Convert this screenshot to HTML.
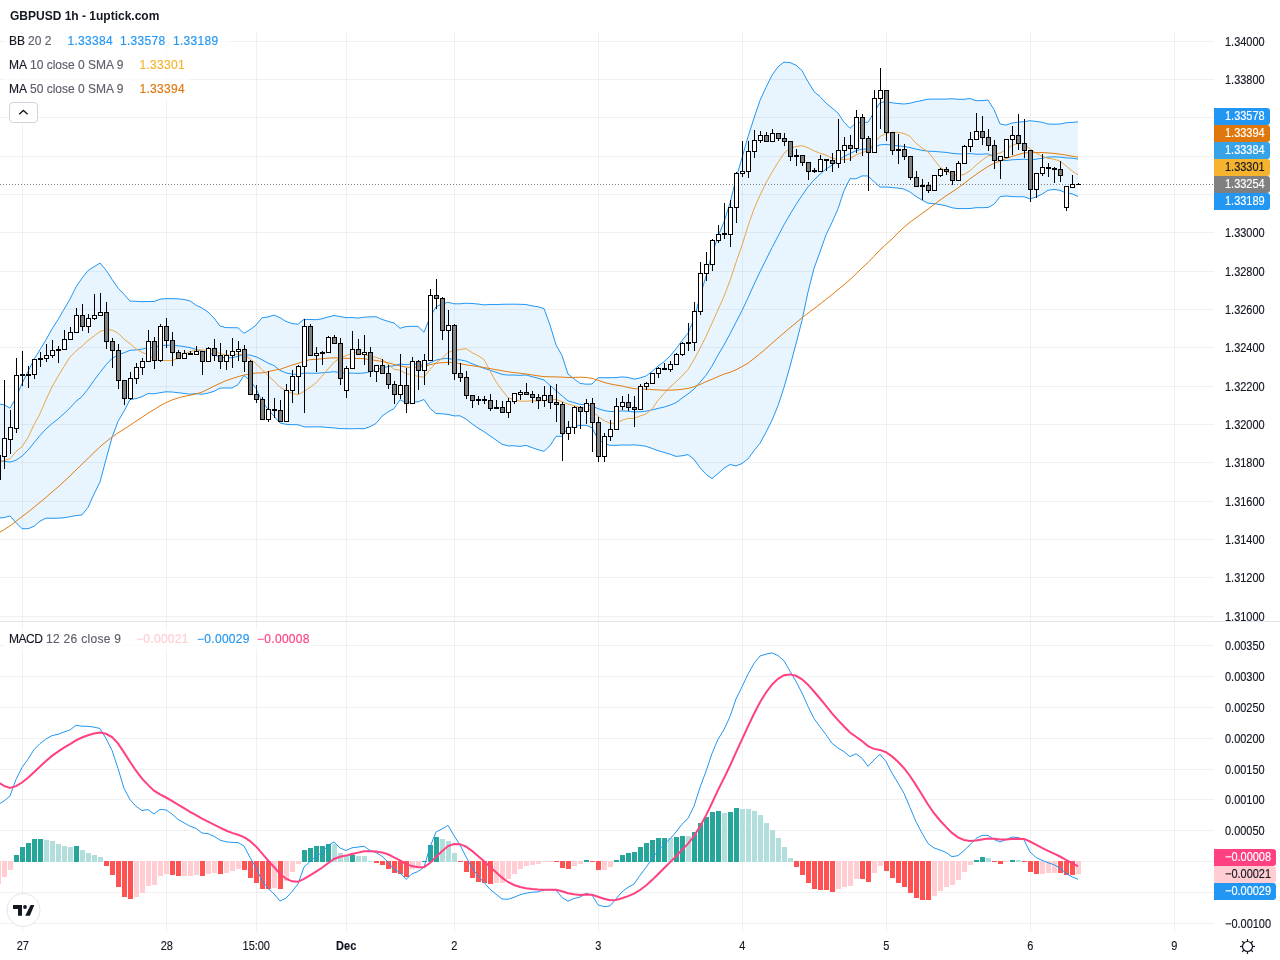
<!DOCTYPE html>
<html><head><meta charset="utf-8"><style>
html,body{margin:0;padding:0;background:#fff;width:1280px;height:960px;overflow:hidden;font-family:"Liberation Sans",sans-serif;}
#root{position:relative;width:1280px;height:960px;will-change:transform;}
svg{position:absolute;left:0;top:0;}
.pl{position:absolute;left:1224.5px;white-space:pre;font-size:12.2px;line-height:16px;height:16px;}
.bx{position:absolute;left:1214px;width:56px;box-sizing:border-box;padding:0 0 0 10.5px;white-space:pre;font-size:12.2px;line-height:17px;height:17px;border-radius:0 3px 3px 0;}
.mb{width:62px;}
.sx{display:inline-block;transform:scaleX(0.9);transform-origin:0 50%;}
.tl{position:absolute;top:938px;width:61px;text-align:center;font-size:12.2px;line-height:16px;color:#131722;}
.tl span{display:inline-block;transform:scaleX(0.9);}
.lg{position:absolute;font-size:12px;line-height:16px;color:#131722;white-space:pre;}
.g{color:#5d606b}
.pl,.tl,.bx,.lg{-webkit-text-stroke:0.15px currentColor;}
.rb{position:absolute;left:4px;height:24px;background:rgba(255,255,255,0.75);}
.v{letter-spacing:0.3px}
</style></head><body><div id="root">
<svg width="1280" height="960" viewBox="0 0 1280 960">
<path d="M0 41.5 H1214 M0 79.5 H1214 M0 117.5 H1214 M0 156.5 H1214 M0 194.5 H1214 M0 232.5 H1214 M0 271.5 H1214 M0 309.5 H1214 M0 347.5 H1214 M0 386.5 H1214 M0 424.5 H1214 M0 462.5 H1214 M0 501.5 H1214 M0 539.5 H1214 M0 577.5 H1214 M0 616.5 H1214 M0 645.5 H1214 M0 676.5 H1214 M0 707.5 H1214 M0 738.5 H1214 M0 769.5 H1214 M0 799.5 H1214 M0 830.5 H1214 M0 861.5 H1214 M0 892.5 H1214 M0 923.5 H1214" stroke="rgba(42,46,57,0.065)" stroke-width="1" fill="none" shape-rendering="crispEdges"/>
<path d="M22.5 31 V621 M22.5 622 V932 M166.5 31 V621 M166.5 622 V932 M256.5 31 V621 M256.5 622 V932 M346.5 31 V621 M346.5 622 V932 M454.5 31 V621 M454.5 622 V932 M598.5 31 V621 M598.5 622 V932 M742.5 31 V621 M742.5 622 V932 M886.5 31 V621 M886.5 622 V932 M1030.5 31 V621 M1030.5 622 V932 M1174.5 31 V621 M1174.5 622 V932" stroke="rgba(42,46,57,0.065)" stroke-width="1" fill="none" shape-rendering="crispEdges"/>
<path d="M0 621.5 H1280" stroke="#e0e3eb" stroke-width="1" shape-rendering="crispEdges"/>
<defs><clipPath id="cm"><rect x="0" y="31" width="1214" height="590"/></clipPath><clipPath id="cd"><rect x="0" y="622" width="1214" height="310"/></clipPath></defs>
<g clip-path="url(#cm)">
<polygon points="-2,403.9 4,404.7 10,408.2 16,397.7 22,383.5 28,371.6 34,359.3 40,349.7 46,339.7 52,329 58,319.6 64,309.3 70,299.1 76,286.9 82,278.1 88,270.6 94,266.8 100,263 106,270.1 112,279.3 118,288.1 124,294.3 130,301.1 136,301.3 142,301.7 148,301.5 154,301.5 160,299.2 166,298.6 172,298.7 178,298.8 184,299.5 190,300.9 196,305.2 202,308 208,312.1 214,318 220,326 226,327.6 232,327.7 238,327.8 244,333.3 250,329.7 256,325.1 262,317.8 268,316.9 274,315.1 280,317.7 286,321.4 292,323.5 298,324.3 304,319.3 310,319.5 316,319.7 322,318.8 328,317 334,315.5 340,316.5 346,317.7 352,317.5 358,318.1 364,317.2 370,316.9 376,316.7 382,319.4 388,321.3 394,323 400,328.3 406,326.6 412,326.3 418,326.4 424,332.2 430,317.3 436,306.7 442,304.1 448,302.2 454,303.8 460,303.8 466,303.2 472,303.5 478,304 484,304.9 490,304.4 496,304.6 502,304.3 508,304.2 514,304.2 520,304.3 526,304.5 532,305.9 538,306.7 544,308.6 550,325 556,344.9 562,355.5 568,374.1 574,378.9 580,383.3 586,384.2 592,384 598,377.8 604,377.7 610,377.7 616,377.6 622,376.9 628,377.4 634,379.1 640,378 646,376 652,371.5 658,366 664,361.7 670,356.1 676,348.9 682,340.5 688,333.2 694,319 700,296.7 706,276.2 712,253.6 718,236.6 724,221.7 730,203.2 736,178.5 742,157.8 748,136.8 754,118.1 760,100.4 766,87.3 772,75.2 778,66.8 784,62.2 790,62.6 796,65.2 802,70.6 808,81.7 814,91.5 820,96.6 826,103.1 832,108 838,113.1 844,122.2 850,128.3 856,122.7 862,122.3 868,122.3 874,112.4 880,102.5 886,101.7 892,102.8 898,103.5 904,104 910,103.2 916,101.7 922,100.5 928,99.2 934,99.1 940,99.1 946,99.1 952,98.7 958,99.3 964,99.3 970,98.5 976,100.7 982,100.6 988,100.1 994,109.5 1000,123.9 1006,125.1 1012,123 1018,122.2 1024,121.7 1030,120.7 1036,121.4 1042,122.3 1048,124 1054,124.2 1060,124 1066,122.8 1072,122.4 1078,121.8 1078,196.5 1072,193.8 1066,193 1060,190.3 1054,189.4 1048,190.3 1042,194.2 1036,196.9 1030,198.9 1024,196.7 1018,196.8 1012,196.6 1006,196 1000,196.6 994,204.3 988,207.5 982,207.7 976,207.7 970,208.5 964,208.6 958,208.6 952,207.8 946,205.8 940,204.6 934,203.7 928,203.2 922,200 916,196.5 910,192 904,189 898,188.1 892,187.6 886,187 880,187.1 874,181.7 868,176 862,175.9 856,178.8 850,178.7 844,190.7 838,208.8 832,222.4 826,234.9 820,251.9 814,268.4 808,292.1 802,320.4 796,343.9 790,366.3 784,387.5 778,405.7 772,420.3 766,432.2 760,443.3 754,450.7 748,458.9 742,463.5 736,465.9 730,464.5 724,468.2 718,473.5 712,478.7 706,474.3 700,467.7 694,459.3 688,454.6 682,455.8 676,456.4 670,454.2 664,452.4 658,450.7 652,448.4 646,446.3 640,445.4 634,444.9 628,445.1 622,445 616,445.3 610,445.3 604,443.3 598,439.5 592,427.7 586,425.3 580,425.4 574,426.4 568,427.8 562,436.2 556,436.4 550,445.7 544,451.3 538,449.7 532,447.6 526,445.4 520,446.4 514,445.8 508,445.9 502,444.2 496,440 490,435.9 484,431.7 478,428 472,423.8 466,419.1 460,415.8 454,415.9 448,414.4 442,413.8 436,413.5 430,408.3 424,399.5 418,401.9 412,401.6 406,402.7 400,399.7 394,408.6 388,411.9 382,416.2 376,423.5 370,426.7 364,428.7 358,428.6 352,428.8 346,428.7 340,428.6 334,427.9 328,427.5 322,426.9 316,426.8 310,426.9 304,426.9 298,424.7 292,424.7 286,424.3 280,423 274,416.1 268,409.3 262,401.6 256,388.5 250,380.7 244,375.5 238,384.7 232,388 226,388 220,388.1 214,391.3 208,393.1 202,394.3 196,393.6 190,394.2 184,393.4 178,392.7 172,392 166,391.8 160,392.7 154,393.8 148,393.6 142,396.7 136,398.6 130,399.6 124,411.2 118,421.4 112,437.6 106,459.5 100,482 94,494.1 88,507.4 82,514.9 76,515.6 70,516.7 64,517.8 58,518.2 52,518.3 46,518.1 40,521.2 34,526.3 28,528.7 22,528.7 16,522.7 10,515.9 4,517.7 -2,517.9" fill="#2196f3" fill-opacity="0.1" stroke="none"/>
<polyline points="-2,403.9 4,404.7 10,408.2 16,397.7 22,383.5 28,371.6 34,359.3 40,349.7 46,339.7 52,329 58,319.6 64,309.3 70,299.1 76,286.9 82,278.1 88,270.6 94,266.8 100,263 106,270.1 112,279.3 118,288.1 124,294.3 130,301.1 136,301.3 142,301.7 148,301.5 154,301.5 160,299.2 166,298.6 172,298.7 178,298.8 184,299.5 190,300.9 196,305.2 202,308 208,312.1 214,318 220,326 226,327.6 232,327.7 238,327.8 244,333.3 250,329.7 256,325.1 262,317.8 268,316.9 274,315.1 280,317.7 286,321.4 292,323.5 298,324.3 304,319.3 310,319.5 316,319.7 322,318.8 328,317 334,315.5 340,316.5 346,317.7 352,317.5 358,318.1 364,317.2 370,316.9 376,316.7 382,319.4 388,321.3 394,323 400,328.3 406,326.6 412,326.3 418,326.4 424,332.2 430,317.3 436,306.7 442,304.1 448,302.2 454,303.8 460,303.8 466,303.2 472,303.5 478,304 484,304.9 490,304.4 496,304.6 502,304.3 508,304.2 514,304.2 520,304.3 526,304.5 532,305.9 538,306.7 544,308.6 550,325 556,344.9 562,355.5 568,374.1 574,378.9 580,383.3 586,384.2 592,384 598,377.8 604,377.7 610,377.7 616,377.6 622,376.9 628,377.4 634,379.1 640,378 646,376 652,371.5 658,366 664,361.7 670,356.1 676,348.9 682,340.5 688,333.2 694,319 700,296.7 706,276.2 712,253.6 718,236.6 724,221.7 730,203.2 736,178.5 742,157.8 748,136.8 754,118.1 760,100.4 766,87.3 772,75.2 778,66.8 784,62.2 790,62.6 796,65.2 802,70.6 808,81.7 814,91.5 820,96.6 826,103.1 832,108 838,113.1 844,122.2 850,128.3 856,122.7 862,122.3 868,122.3 874,112.4 880,102.5 886,101.7 892,102.8 898,103.5 904,104 910,103.2 916,101.7 922,100.5 928,99.2 934,99.1 940,99.1 946,99.1 952,98.7 958,99.3 964,99.3 970,98.5 976,100.7 982,100.6 988,100.1 994,109.5 1000,123.9 1006,125.1 1012,123 1018,122.2 1024,121.7 1030,120.7 1036,121.4 1042,122.3 1048,124 1054,124.2 1060,124 1066,122.8 1072,122.4 1078,121.8" fill="none" stroke="#2196f3" stroke-width="1"/>
<polyline points="-2,517.9 4,517.7 10,515.9 16,522.7 22,528.7 28,528.7 34,526.3 40,521.2 46,518.1 52,518.3 58,518.2 64,517.8 70,516.7 76,515.6 82,514.9 88,507.4 94,494.1 100,482 106,459.5 112,437.6 118,421.4 124,411.2 130,399.6 136,398.6 142,396.7 148,393.6 154,393.8 160,392.7 166,391.8 172,392 178,392.7 184,393.4 190,394.2 196,393.6 202,394.3 208,393.1 214,391.3 220,388.1 226,388 232,388 238,384.7 244,375.5 250,380.7 256,388.5 262,401.6 268,409.3 274,416.1 280,423 286,424.3 292,424.7 298,424.7 304,426.9 310,426.9 316,426.8 322,426.9 328,427.5 334,427.9 340,428.6 346,428.7 352,428.8 358,428.6 364,428.7 370,426.7 376,423.5 382,416.2 388,411.9 394,408.6 400,399.7 406,402.7 412,401.6 418,401.9 424,399.5 430,408.3 436,413.5 442,413.8 448,414.4 454,415.9 460,415.8 466,419.1 472,423.8 478,428 484,431.7 490,435.9 496,440 502,444.2 508,445.9 514,445.8 520,446.4 526,445.4 532,447.6 538,449.7 544,451.3 550,445.7 556,436.4 562,436.2 568,427.8 574,426.4 580,425.4 586,425.3 592,427.7 598,439.5 604,443.3 610,445.3 616,445.3 622,445 628,445.1 634,444.9 640,445.4 646,446.3 652,448.4 658,450.7 664,452.4 670,454.2 676,456.4 682,455.8 688,454.6 694,459.3 700,467.7 706,474.3 712,478.7 718,473.5 724,468.2 730,464.5 736,465.9 742,463.5 748,458.9 754,450.7 760,443.3 766,432.2 772,420.3 778,405.7 784,387.5 790,366.3 796,343.9 802,320.4 808,292.1 814,268.4 820,251.9 826,234.9 832,222.4 838,208.8 844,190.7 850,178.7 856,178.8 862,175.9 868,176 874,181.7 880,187.1 886,187 892,187.6 898,188.1 904,189 910,192 916,196.5 922,200 928,203.2 934,203.7 940,204.6 946,205.8 952,207.8 958,208.6 964,208.6 970,208.5 976,207.7 982,207.7 988,207.5 994,204.3 1000,196.6 1006,196 1012,196.6 1018,196.8 1024,196.7 1030,198.9 1036,196.9 1042,194.2 1048,190.3 1054,189.4 1060,190.3 1066,193 1072,193.8 1078,196.5" fill="none" stroke="#2196f3" stroke-width="1"/>
<polyline points="-2,460.9 4,461.2 10,462.1 16,460.2 22,456.1 28,450.2 34,442.8 40,435.5 46,428.9 52,423.7 58,418.9 64,413.6 70,407.9 76,401.3 82,396.5 88,389 94,380.4 100,372.5 106,364.8 112,358.5 118,354.7 124,352.8 130,350.3 136,349.9 142,349.2 148,347.6 154,347.6 160,345.9 166,345.2 172,345.3 178,345.8 184,346.5 190,347.6 196,349.4 202,351.1 208,352.6 214,354.6 220,357.1 226,357.8 232,357.8 238,356.3 244,354.4 250,355.2 256,356.8 262,359.7 268,363.1 274,365.6 280,370.4 286,372.9 292,374.1 298,374.5 304,373.1 310,373.2 316,373.3 322,372.8 328,372.3 334,371.7 340,372.5 346,373.2 352,373.1 358,373.4 364,373 370,371.8 376,370.1 382,367.8 388,366.6 394,365.8 400,364 406,364.7 412,363.9 418,364.1 424,365.8 430,362.8 436,360.1 442,358.9 448,358.3 454,359.8 460,359.8 466,361.1 472,363.7 478,366 484,368.3 490,370.2 496,372.3 502,374.3 508,375.1 514,375 520,375.4 526,374.9 532,376.7 538,378.2 544,380 550,385.3 556,390.6 562,395.8 568,400.9 574,402.6 580,404.3 586,404.8 592,405.9 598,408.7 604,410.5 610,411.5 616,411.5 622,410.9 628,411.2 634,412 640,411.7 646,411.2 652,409.9 658,408.4 664,407.1 670,405.2 676,402.7 682,398.1 688,393.9 694,389.1 700,382.2 706,375.3 712,366.1 718,355.1 724,345 730,333.9 736,322.2 742,310.6 748,297.8 754,284.4 760,271.8 766,259.7 772,247.7 778,236.2 784,224.8 790,214.4 796,204.5 802,195.5 808,186.9 814,179.9 820,174.2 826,169 832,165.2 838,160.9 844,156.5 850,153.5 856,150.8 862,149.1 868,149.2 874,147.1 880,144.8 886,144.4 892,145.2 898,145.8 904,146.5 910,147.6 916,149.1 922,150.3 928,151.2 934,151.4 940,151.9 946,152.4 952,153.3 958,153.9 964,154 970,153.5 976,154.2 982,154.2 988,153.8 994,156.9 1000,160.2 1006,160.6 1012,159.8 1018,159.5 1024,159.2 1030,159.8 1036,159.2 1042,158.2 1048,157.1 1054,156.8 1060,157.1 1066,157.9 1072,158.1 1078,159.1" fill="none" stroke="#2196f3" stroke-width="1"/>
<polyline points="-2,461.4 4,460.6 10,458.7 16,451.5 22,446.8 28,437.5 34,424.8 40,413.7 46,399.7 52,386.9 58,376.4 64,366.5 70,357.1 76,351.1 82,346.2 88,340.5 94,336.1 100,331.4 106,329.9 112,330 118,333.1 124,339 130,343.6 136,348.8 142,352.3 148,354.6 154,359.1 160,360.6 166,360.5 172,360.6 178,358.5 184,354 190,351.6 196,349.9 202,349.9 208,350.6 214,350.1 220,353.6 226,355.1 232,355 238,354.1 244,354.8 250,358.8 256,363.7 262,369.5 268,375.6 274,381.1 280,387.1 286,390.7 292,393.2 298,394.9 304,391.4 310,387.5 316,382.8 322,376.2 328,369 334,362.3 340,357.9 346,355.8 352,353.1 358,351.9 364,354.5 370,356.1 376,357.4 382,359.4 388,364.2 394,369.3 400,370.1 406,373.6 412,374.8 418,376.4 424,377.1 430,369.5 436,362.8 442,358.5 448,352.5 454,350.4 460,349.5 466,348.7 472,352.6 478,355.6 484,359.5 490,370.8 496,381.8 502,390.1 508,397.7 514,399.7 520,401.2 526,401.2 532,400.9 538,400.9 544,400.4 550,399.8 556,399.5 562,401.6 568,404.2 574,405.5 580,407.5 586,408.3 592,410.8 598,416.4 604,420.6 610,423.2 616,423.4 622,420.3 628,418.3 634,418.5 640,416 646,414 652,409.1 658,400.3 664,393.6 670,387.1 676,381.9 682,376 688,369.6 694,359.7 700,348.4 706,336.5 712,323.2 718,309.8 724,296.4 730,280.6 736,262.5 742,245.3 748,226.1 754,209 760,195.2 766,182.9 772,172.2 778,162.6 784,153.3 790,148.2 796,146.6 802,145.7 808,147.7 814,150.8 820,153.2 826,155.1 832,158.1 838,159.3 844,159.6 850,158.8 856,154.9 862,152.5 868,150.6 874,143.3 880,136.4 886,133.7 892,132.3 898,132.3 904,133.5 910,136.4 916,143.2 922,148 928,151.8 934,159.4 940,167.3 946,171.2 952,174.2 958,175.5 964,174.5 970,170.7 976,165.2 982,160.3 988,155.9 994,154.4 1000,153.1 1006,149.9 1012,145.4 1018,143.4 1024,143.8 1030,148.9 1036,153.1 1042,156.2 1048,158.4 1054,159.2 1060,161.1 1066,165.9 1072,170.8 1078,174.9" fill="none" stroke="#eba545" stroke-width="1"/>
<polyline points="-2,533.3 4,529.7 10,525.9 16,521.3 22,516.6 28,512.1 34,507.2 40,502.3 46,497.3 52,492.1 58,487 64,481.5 70,475.9 76,470 82,464.2 88,458.4 94,452.5 100,446.8 106,441.8 112,437 118,432.9 124,429.2 130,425.3 136,421.2 142,417.3 148,413.2 154,409.7 160,405.8 166,402.6 172,400 178,398 184,396.4 190,395.3 196,394 202,392.1 208,389.2 214,386.2 220,383.3 226,380.7 232,378.6 238,376.7 244,375 250,374 256,373 262,372.9 268,371.8 274,370.2 280,369.3 286,367.2 292,365.1 298,363.4 304,361.1 310,359.7 316,359.3 322,358.8 328,358.1 334,357.8 340,358.1 346,358.4 352,358.4 358,358.5 364,358.7 370,359.5 376,360.5 382,361.5 388,362.8 394,364.4 400,365.9 406,367.1 412,367.3 418,367.1 424,366.4 430,364.7 436,363.3 442,362.7 448,362.4 454,362.6 460,363.7 466,364.8 472,365.7 478,366.6 484,367.5 490,368.6 496,369.7 502,370.7 508,371.8 514,372.6 520,373.2 526,374 532,374.9 538,375.9 544,376.6 550,376.8 556,376.9 562,377.1 568,377.5 574,377.4 580,377.2 586,377.5 592,378.4 598,380.2 604,382.4 610,383.9 616,385 622,386 628,387.4 634,388.7 640,388.9 646,389.2 652,389.6 658,389.9 664,390.2 670,390.1 676,389.9 682,389.3 688,388.4 694,386.8 700,384.5 706,381.7 712,379.3 718,376.6 724,374.1 730,372.3 736,369.8 742,366.6 748,363.2 754,358.5 760,353.7 766,348.6 772,343.2 778,338 784,332.8 790,327.8 796,322.8 802,317.8 808,313.2 814,308.7 820,304.1 826,299.4 832,294.7 838,289.7 844,284.7 850,279.6 856,273.9 862,268 868,262.5 874,256.3 880,249.9 886,244.4 892,239 898,232.9 904,227.3 910,222.2 916,217.8 922,213.5 928,209.2 934,204.5 940,200.1 946,195.9 952,192 958,187.9 964,183.5 970,178.9 976,174.5 982,170.4 988,166.4 994,163.4 1000,161.1 1006,158.6 1012,156.5 1018,154.6 1024,153 1030,152.6 1036,152.6 1042,152.5 1048,152.9 1054,153.4 1060,154.2 1066,155.1 1072,156.2 1078,157.1" fill="none" stroke="#e27c10" stroke-width="1"/>
<path d="M0 184.5 H1213" stroke="#808080" stroke-width="1" stroke-dasharray="1 2" shape-rendering="crispEdges"/>
<g shape-rendering="crispEdges">
<path d="M-1.5 455 V479 M4.5 380 V469 M10.5 410 V454 M16.5 358 V433 M22.5 351 V386 M28.5 366 V388 M34.5 359 V379 M40.5 352 V367 M46.5 344 V362 M52.5 340 V358 M58.5 346 V363 M64.5 330 V350.3 M70.5 327 V340 M76.5 308 V332.5 M82.5 304 V331 M88.5 314 V332.7 M94.5 294 V320 M100.5 293 V315 M106.5 302 V349 M112.5 338 V367.5 M118.5 344 V388.6 M124.5 380.5 V404.7 M130.5 372.2 V400 M136.5 363.3 V384.4 M142.5 358.3 V374.7 M148.5 330 V361.2 M154.5 337.2 V368.8 M160.5 324.2 V361.7 M166.5 318 V347.7 M172.5 332 V365.6 M178.5 350.3 V359.4 M184.5 350.3 V358.6 M190.5 350.5 V354.7 M196.5 346 V354.7 M202.5 350.8 V374.7 M208.5 346.6 V361.2 M214.5 339 V360.6 M220.5 343 V368.8 M226.5 350 V369.5 M232.5 337.8 V367.5 M238.5 341 V360.6 M244.5 345.3 V372.2 M250.5 360.2 V394.5 M256.5 385.2 V403.4 M262.5 397.2 V419.5 M268.5 371.1 V421.6 M274.5 398 V418.4 M280.5 400 V421.6 M286.5 384 V421.6 M292.5 370.3 V402.8 M298.5 365.3 V393.8 M304.5 319 V412.8 M310.5 323.8 V356.2 M316.5 346.9 V371.9 M322.5 350.8 V364.8 M328.5 336.2 V353.4 M334.5 335.2 V343.8 M340.5 338.3 V385.2 M346.5 366.4 V397.7 M352.5 331.2 V368.4 M358.5 339 V354.7 M364.5 335.3 V364.5 M370.5 347.3 V376.6 M376.5 365.6 V381.7 M382.5 359.4 V373.4 M388.5 364.5 V388.8 M394.5 381.2 V403.6 M400.5 354.4 V398.9 M406.5 368.1 V413.4 M412.5 357.2 V403.6 M418.5 359.8 V390.3 M424.5 354.4 V384.8 M430.5 289 V360.3 M436.5 279 V309.4 M442.5 297.3 V339.5 M448.5 310.3 V365.3 M454.5 324.4 V380.2 M460.5 362.5 V382.2 M466.5 371.2 V399.4 M472.5 395 V408.3 M478.5 395.8 V405.2 M484.5 396 V404.4 M490.5 393.9 V410.6 M496.5 400.2 V408.4 M502.5 401.2 V413.4 M508.5 397.5 V417.8 M514.5 392.8 V403.8 M520.5 390.3 V399.7 M526.5 383 V394.7 M532.5 390.8 V402.8 M538.5 394.4 V408.8 M544.5 386.1 V406.9 M550.5 386.1 V408.8 M556.5 384 V421.6 M562.5 401.7 V460.6 M568.5 421.2 V439.7 M574.5 405.6 V433.8 M580.5 406.4 V428.8 M586.5 399 V424.4 M592.5 398.1 V451.7 M598.5 416.6 V461.9 M604.5 433.3 V462.2 M610.5 420 V441.1 M616.5 398.1 V429.4 M622.5 396.2 V410.3 M628.5 394.2 V411.4 M634.5 396.2 V426.6 M640.5 384.4 V409.8 M646.5 381.7 V390.3 M652.5 372.8 V383.3 M658.5 366.6 V377.5 M664.5 363.4 V369.2 M670.5 361.4 V372.3 M676.5 352.5 V364.5 M682.5 342.2 V355.6 M688.5 323 V350.5 M694.5 302.1 V351 M700.5 262.3 V315.4 M706.5 252.2 V281.2 M712.5 239.3 V271.2 M718.5 225.1 V243.4 M724.5 203 V238.8 M730.5 200.4 V247.3 M736.5 172.3 V223.4 M742.5 140.9 V176.7 M748.5 140.9 V177.5 M754.5 130.2 V157.6 M760.5 131.1 V142.6 M766.5 132.3 V141.4 M772.5 129.2 V141.4 M778.5 133.2 V140.5 M784.5 133 V145.6 M790.5 141.4 V160.6 M796.5 149.2 V165.8 M802.5 155.5 V165.8 M808.5 162.5 V179.8 M814.5 168 V172.6 M820.5 155 V171.7 M826.5 158.5 V170.9 M832.5 153.1 V171.9 M838.5 118.9 V167.6 M844.5 137 V162.7 M850.5 135.1 V160.6 M856.5 110.3 V153.3 M862.5 114.2 V155.5 M868.5 136.1 V190.5 M874.5 90.3 V152.2 M880.5 68 V128.5 M886.5 90.3 V141 M892.5 131.5 V154.5 M898.5 134 V163.5 M904.5 144.3 V159.5 M910.5 156.2 V180.3 M916.5 171.1 V186.1 M922.5 179.3 V199.6 M928.5 182.2 V193.4 M934.5 175.2 V190.5 M940.5 167.9 V177.4 M946.5 167.2 V174.5 M952.5 171.1 V184.7 M958.5 160.9 V180.8 M964.5 145.3 V164.3 M970.5 131.9 V151.8 M976.5 113 V139.1 M982.5 115.9 V144.9 M988.5 129.1 V150.6 M994.5 140 V168.6 M1000.5 156.6 V178.9 M1006.5 139.1 V157.7 M1012.5 126.2 V155.4 M1018.5 113.9 V149.7 M1024.5 119 V157.7 M1030.5 149.7 V201.8 M1036.5 173.5 V197.6 M1042.5 154 V175.8 M1048.5 163.2 V177 M1054.5 167 V183 M1060.5 161.1 V181.5 M1066.5 186.4 V210.6 M1072.5 175.1 V187.5 M1076 184.5 H1081 M1078 183.5 h1" stroke="#000" stroke-width="1" fill="none"/>
<g fill="#fff" stroke="#000" stroke-width="1"><rect x="-3.5" y="455.5" width="4" height="24"/><rect x="2.5" y="438.5" width="4" height="18"/><rect x="8.5" y="427.5" width="4" height="12"/><rect x="14.5" y="375.5" width="4" height="53"/><rect x="32.5" y="359.5" width="4" height="15"/><rect x="44.5" y="355.5" width="4" height="3"/><rect x="50.5" y="350.5" width="4" height="5"/><rect x="62.5" y="339.5" width="4" height="10"/><rect x="68.5" y="332.5" width="4" height="7"/><rect x="74.5" y="315.5" width="4" height="17"/><rect x="86.5" y="318.5" width="4" height="8"/><rect x="92.5" y="315.5" width="4" height="3"/><rect x="98.5" y="312.5" width="4" height="3"/><rect x="128.5" y="378.5" width="4" height="20"/><rect x="134.5" y="367.5" width="4" height="11"/><rect x="140.5" y="361.5" width="4" height="6"/><rect x="146.5" y="341.5" width="4" height="20"/><rect x="158.5" y="326.5" width="4" height="34"/><rect x="182.5" y="353.5" width="4" height="5"/><rect x="194.5" y="351.5" width="4" height="3"/><rect x="206.5" y="348.5" width="4" height="13"/><rect x="224.5" y="355.5" width="4" height="6"/><rect x="230.5" y="351.5" width="4" height="4"/><rect x="236.5" y="349.5" width="4" height="2"/><rect x="266.5" y="409.5" width="4" height="10"/><rect x="284.5" y="390.5" width="4" height="31"/><rect x="290.5" y="376.5" width="4" height="14"/><rect x="296.5" y="366.5" width="4" height="10"/><rect x="302.5" y="326.5" width="4" height="40"/><rect x="314.5" y="353.5" width="4" height="2"/><rect x="326.5" y="337.5" width="4" height="15"/><rect x="344.5" y="368.5" width="4" height="22"/><rect x="350.5" y="349.5" width="4" height="19"/><rect x="362.5" y="352.5" width="4" height="2"/><rect x="374.5" y="365.5" width="4" height="6"/><rect x="398.5" y="385.5" width="4" height="9"/><rect x="410.5" y="361.5" width="4" height="42"/><rect x="422.5" y="360.5" width="4" height="10"/><rect x="428.5" y="295.5" width="4" height="65"/><rect x="446.5" y="325.5" width="4" height="5"/><rect x="506.5" y="401.5" width="4" height="11"/><rect x="512.5" y="393.5" width="4" height="8"/><rect x="518.5" y="392.5" width="4" height="2"/><rect x="542.5" y="395.5" width="4" height="5"/><rect x="566.5" y="427.5" width="4" height="6"/><rect x="572.5" y="407.5" width="4" height="20"/><rect x="584.5" y="403.5" width="4" height="8"/><rect x="602.5" y="436.5" width="4" height="20"/><rect x="608.5" y="429.5" width="4" height="7"/><rect x="614.5" y="406.5" width="4" height="23"/><rect x="620.5" y="402.5" width="4" height="4"/><rect x="638.5" y="386.5" width="4" height="23"/><rect x="644.5" y="383.5" width="4" height="3"/><rect x="650.5" y="373.5" width="4" height="10"/><rect x="656.5" y="368.5" width="4" height="5"/><rect x="668.5" y="364.5" width="4" height="5"/><rect x="674.5" y="354.5" width="4" height="10"/><rect x="680.5" y="343.5" width="4" height="11"/><rect x="692.5" y="311.5" width="4" height="31"/><rect x="698.5" y="273.5" width="4" height="38"/><rect x="704.5" y="264.5" width="4" height="9"/><rect x="710.5" y="240.5" width="4" height="24"/><rect x="716.5" y="234.5" width="4" height="6"/><rect x="728.5" y="207.5" width="4" height="27"/><rect x="734.5" y="173.5" width="4" height="34"/><rect x="740.5" y="171.5" width="4" height="2"/><rect x="746.5" y="151.5" width="4" height="20"/><rect x="752.5" y="140.5" width="4" height="11"/><rect x="758.5" y="135.5" width="4" height="5"/><rect x="770.5" y="133.5" width="4" height="8"/><rect x="818.5" y="159.5" width="4" height="12"/><rect x="836.5" y="150.5" width="4" height="13"/><rect x="842.5" y="145.5" width="4" height="5"/><rect x="854.5" y="117.5" width="4" height="31"/><rect x="872.5" y="98.5" width="4" height="54"/><rect x="878.5" y="90.5" width="4" height="8"/><rect x="932.5" y="175.5" width="4" height="15"/><rect x="938.5" y="169.5" width="4" height="6"/><rect x="956.5" y="163.5" width="4" height="17"/><rect x="962.5" y="146.5" width="4" height="17"/><rect x="968.5" y="139.5" width="4" height="7"/><rect x="974.5" y="131.5" width="4" height="8"/><rect x="998.5" y="156.5" width="4" height="4"/><rect x="1004.5" y="139.5" width="4" height="18"/><rect x="1010.5" y="135.5" width="4" height="4"/><rect x="1034.5" y="173.5" width="4" height="16"/><rect x="1040.5" y="167.5" width="4" height="6"/><rect x="1064.5" y="186.5" width="4" height="21"/><rect x="1070.5" y="184.5" width="4" height="3"/></g>
<g fill="#808080" stroke="#000" stroke-width="1"><rect x="20.5" y="374.5" width="4" height="1"/><rect x="26.5" y="374.5" width="4" height="1"/><rect x="38.5" y="358.5" width="4" height="1"/><rect x="56.5" y="349.5" width="4" height="1"/><rect x="80.5" y="315.5" width="4" height="11"/><rect x="104.5" y="312.5" width="4" height="29"/><rect x="110.5" y="341.5" width="4" height="9"/><rect x="116.5" y="350.5" width="4" height="30"/><rect x="122.5" y="380.5" width="4" height="18"/><rect x="152.5" y="341.5" width="4" height="19"/><rect x="164.5" y="326.5" width="4" height="14"/><rect x="170.5" y="340.5" width="4" height="12"/><rect x="176.5" y="352.5" width="4" height="6"/><rect x="188.5" y="353.5" width="4" height="1"/><rect x="200.5" y="351.5" width="4" height="10"/><rect x="212.5" y="348.5" width="4" height="7"/><rect x="218.5" y="355.5" width="4" height="6"/><rect x="242.5" y="349.5" width="4" height="12"/><rect x="248.5" y="361.5" width="4" height="33"/><rect x="254.5" y="394.5" width="4" height="5"/><rect x="260.5" y="399.5" width="4" height="20"/><rect x="272.5" y="409.5" width="4" height="1"/><rect x="278.5" y="410.5" width="4" height="11"/><rect x="308.5" y="326.5" width="4" height="29"/><rect x="320.5" y="352.5" width="4" height="1"/><rect x="332.5" y="337.5" width="4" height="6"/><rect x="338.5" y="343.5" width="4" height="35"/><rect x="356.5" y="349.5" width="4" height="5"/><rect x="368.5" y="352.5" width="4" height="19"/><rect x="380.5" y="365.5" width="4" height="8"/><rect x="386.5" y="373.5" width="4" height="11"/><rect x="392.5" y="384.5" width="4" height="10"/><rect x="404.5" y="385.5" width="4" height="18"/><rect x="416.5" y="361.5" width="4" height="9"/><rect x="434.5" y="295.5" width="4" height="3"/><rect x="440.5" y="298.5" width="4" height="32"/><rect x="452.5" y="325.5" width="4" height="48"/><rect x="458.5" y="373.5" width="4" height="4"/><rect x="464.5" y="377.5" width="4" height="18"/><rect x="470.5" y="395.5" width="4" height="5"/><rect x="476.5" y="399.5" width="4" height="1"/><rect x="482.5" y="399.5" width="4" height="1"/><rect x="488.5" y="400.5" width="4" height="8"/><rect x="494.5" y="407.5" width="4" height="1"/><rect x="500.5" y="407.5" width="4" height="5"/><rect x="524.5" y="392.5" width="4" height="2"/><rect x="530.5" y="394.5" width="4" height="3"/><rect x="536.5" y="397.5" width="4" height="3"/><rect x="548.5" y="395.5" width="4" height="7"/><rect x="554.5" y="402.5" width="4" height="2"/><rect x="560.5" y="404.5" width="4" height="29"/><rect x="578.5" y="407.5" width="4" height="4"/><rect x="590.5" y="403.5" width="4" height="19"/><rect x="596.5" y="422.5" width="4" height="34"/><rect x="626.5" y="402.5" width="4" height="5"/><rect x="632.5" y="407.5" width="4" height="2"/><rect x="662.5" y="368.5" width="4" height="1"/><rect x="686.5" y="342.5" width="4" height="1"/><rect x="722.5" y="233.5" width="4" height="1"/><rect x="764.5" y="135.5" width="4" height="6"/><rect x="776.5" y="133.5" width="4" height="5"/><rect x="782.5" y="138.5" width="4" height="3"/><rect x="788.5" y="141.5" width="4" height="15"/><rect x="794.5" y="155.5" width="4" height="1"/><rect x="800.5" y="155.5" width="4" height="7"/><rect x="806.5" y="162.5" width="4" height="9"/><rect x="812.5" y="170.5" width="4" height="1"/><rect x="824.5" y="159.5" width="4" height="1"/><rect x="830.5" y="160.5" width="4" height="3"/><rect x="848.5" y="145.5" width="4" height="3"/><rect x="860.5" y="117.5" width="4" height="21"/><rect x="866.5" y="138.5" width="4" height="14"/><rect x="884.5" y="90.5" width="4" height="42"/><rect x="890.5" y="132.5" width="4" height="18"/><rect x="896.5" y="149.5" width="4" height="1"/><rect x="902.5" y="149.5" width="4" height="7"/><rect x="908.5" y="156.5" width="4" height="21"/><rect x="914.5" y="177.5" width="4" height="9"/><rect x="920.5" y="185.5" width="4" height="1"/><rect x="926.5" y="185.5" width="4" height="5"/><rect x="944.5" y="169.5" width="4" height="2"/><rect x="950.5" y="171.5" width="4" height="9"/><rect x="980.5" y="131.5" width="4" height="6"/><rect x="986.5" y="137.5" width="4" height="8"/><rect x="992.5" y="145.5" width="4" height="15"/><rect x="1016.5" y="135.5" width="4" height="8"/><rect x="1022.5" y="143.5" width="4" height="7"/><rect x="1028.5" y="150.5" width="4" height="39"/><rect x="1046.5" y="167.5" width="4" height="1"/><rect x="1052.5" y="168.5" width="4" height="1"/><rect x="1058.5" y="169.5" width="4" height="6"/></g>
</g></g>
<g clip-path="url(#cd)">
<g shape-rendering="crispEdges"><rect x="-4" y="861" width="5" height="23" fill="#ffcdd2"/><rect x="2" y="861" width="5" height="16" fill="#ffcdd2"/><rect x="8" y="861" width="5" height="9" fill="#ffcdd2"/><rect x="14" y="855" width="5" height="7" fill="#26a69a"/><rect x="20" y="847" width="5" height="15" fill="#26a69a"/><rect x="26" y="843" width="5" height="19" fill="#26a69a"/><rect x="32" y="839" width="5" height="23" fill="#26a69a"/><rect x="38" y="839" width="5" height="23" fill="#26a69a"/><rect x="44" y="840" width="5" height="22" fill="#b2dfdb"/><rect x="50" y="841" width="5" height="21" fill="#b2dfdb"/><rect x="56" y="844" width="5" height="18" fill="#b2dfdb"/><rect x="62" y="846" width="5" height="16" fill="#b2dfdb"/><rect x="68" y="847" width="5" height="15" fill="#b2dfdb"/><rect x="74" y="846" width="5" height="16" fill="#26a69a"/><rect x="80" y="850" width="5" height="12" fill="#b2dfdb"/><rect x="86" y="853" width="5" height="9" fill="#b2dfdb"/><rect x="92" y="855" width="5" height="7" fill="#b2dfdb"/><rect x="98" y="857" width="5" height="5" fill="#b2dfdb"/><rect x="104" y="861" width="5" height="5" fill="#ff5252"/><rect x="110" y="861" width="5" height="14" fill="#ff5252"/><rect x="116" y="861" width="5" height="26" fill="#ff5252"/><rect x="122" y="861" width="5" height="36" fill="#ff5252"/><rect x="128" y="861" width="5" height="38" fill="#ff5252"/><rect x="134" y="861" width="5" height="36" fill="#ffcdd2"/><rect x="140" y="861" width="5" height="32" fill="#ffcdd2"/><rect x="146" y="861" width="5" height="25" fill="#ffcdd2"/><rect x="152" y="861" width="5" height="24" fill="#ffcdd2"/><rect x="158" y="861" width="5" height="15" fill="#ffcdd2"/><rect x="164" y="861" width="5" height="13" fill="#ffcdd2"/><rect x="170" y="861" width="5" height="14" fill="#ff5252"/><rect x="176" y="861" width="5" height="15" fill="#ff5252"/><rect x="182" y="861" width="5" height="15" fill="#ffcdd2"/><rect x="188" y="861" width="5" height="15" fill="#ffcdd2"/><rect x="194" y="861" width="5" height="14" fill="#ffcdd2"/><rect x="200" y="861" width="5" height="15" fill="#ff5252"/><rect x="206" y="861" width="5" height="13" fill="#ffcdd2"/><rect x="212" y="861" width="5" height="12" fill="#ffcdd2"/><rect x="218" y="861" width="5" height="13" fill="#ff5252"/><rect x="224" y="861" width="5" height="12" fill="#ffcdd2"/><rect x="230" y="861" width="5" height="10" fill="#ffcdd2"/><rect x="236" y="861" width="5" height="8" fill="#ffcdd2"/><rect x="242" y="861" width="5" height="9" fill="#ff5252"/><rect x="248" y="861" width="5" height="17" fill="#ff5252"/><rect x="254" y="861" width="5" height="22" fill="#ff5252"/><rect x="260" y="861" width="5" height="28" fill="#ff5252"/><rect x="266" y="861" width="5" height="28" fill="#ff5252"/><rect x="272" y="861" width="5" height="27" fill="#ffcdd2"/><rect x="278" y="861" width="5" height="28" fill="#ff5252"/><rect x="284" y="861" width="5" height="20" fill="#ffcdd2"/><rect x="290" y="861" width="5" height="11" fill="#ffcdd2"/><rect x="296" y="861" width="5" height="3" fill="#ffcdd2"/><rect x="302" y="850" width="5" height="12" fill="#26a69a"/><rect x="308" y="848" width="5" height="14" fill="#26a69a"/><rect x="314" y="846" width="5" height="16" fill="#26a69a"/><rect x="320" y="846" width="5" height="16" fill="#26a69a"/><rect x="326" y="844" width="5" height="18" fill="#26a69a"/><rect x="332" y="844" width="5" height="18" fill="#b2dfdb"/><rect x="338" y="853" width="5" height="9" fill="#b2dfdb"/><rect x="344" y="856" width="5" height="6" fill="#b2dfdb"/><rect x="350" y="855" width="5" height="7" fill="#26a69a"/><rect x="356" y="856" width="5" height="6" fill="#b2dfdb"/><rect x="362" y="856" width="5" height="6" fill="#b2dfdb"/><rect x="368" y="861" width="5" height="1" fill="#b2dfdb"/><rect x="374" y="861" width="5" height="2" fill="#ff5252"/><rect x="380" y="861" width="5" height="4" fill="#ff5252"/><rect x="386" y="861" width="5" height="8" fill="#ff5252"/><rect x="392" y="861" width="5" height="12" fill="#ff5252"/><rect x="398" y="861" width="5" height="13" fill="#ff5252"/><rect x="404" y="861" width="5" height="16" fill="#ff5252"/><rect x="410" y="861" width="5" height="8" fill="#ffcdd2"/><rect x="416" y="861" width="5" height="5" fill="#ffcdd2"/><rect x="422" y="861" width="5" height="1" fill="#26a69a"/><rect x="428" y="845" width="5" height="17" fill="#26a69a"/><rect x="434" y="837" width="5" height="25" fill="#26a69a"/><rect x="440" y="839" width="5" height="23" fill="#b2dfdb"/><rect x="446" y="841" width="5" height="21" fill="#b2dfdb"/><rect x="452" y="853" width="5" height="9" fill="#b2dfdb"/><rect x="458" y="861" width="5" height="1" fill="#ff5252"/><rect x="464" y="861" width="5" height="11" fill="#ff5252"/><rect x="470" y="861" width="5" height="17" fill="#ff5252"/><rect x="476" y="861" width="5" height="21" fill="#ff5252"/><rect x="482" y="861" width="5" height="22" fill="#ff5252"/><rect x="488" y="861" width="5" height="23" fill="#ff5252"/><rect x="494" y="861" width="5" height="22" fill="#ffcdd2"/><rect x="500" y="861" width="5" height="22" fill="#ffcdd2"/><rect x="506" y="861" width="5" height="18" fill="#ffcdd2"/><rect x="512" y="861" width="5" height="13" fill="#ffcdd2"/><rect x="518" y="861" width="5" height="8" fill="#ffcdd2"/><rect x="524" y="861" width="5" height="5" fill="#ffcdd2"/><rect x="530" y="861" width="5" height="4" fill="#ffcdd2"/><rect x="536" y="861" width="5" height="3" fill="#ffcdd2"/><rect x="542" y="861" width="5" height="1" fill="#ffcdd2"/><rect x="548" y="861" width="5" height="1" fill="#ffcdd2"/><rect x="554" y="861" width="5" height="1" fill="#ff5252"/><rect x="560" y="861" width="5" height="7" fill="#ff5252"/><rect x="566" y="861" width="5" height="8" fill="#ff5252"/><rect x="572" y="861" width="5" height="5" fill="#ffcdd2"/><rect x="578" y="861" width="5" height="3" fill="#ffcdd2"/><rect x="584" y="860" width="5" height="2" fill="#26a69a"/><rect x="590" y="861" width="5" height="1" fill="#ff5252"/><rect x="596" y="861" width="5" height="9" fill="#ff5252"/><rect x="602" y="861" width="5" height="9" fill="#ffcdd2"/><rect x="608" y="861" width="5" height="6" fill="#ffcdd2"/><rect x="614" y="860" width="5" height="2" fill="#26a69a"/><rect x="620" y="855" width="5" height="7" fill="#26a69a"/><rect x="626" y="853" width="5" height="9" fill="#26a69a"/><rect x="632" y="852" width="5" height="10" fill="#26a69a"/><rect x="638" y="847" width="5" height="15" fill="#26a69a"/><rect x="644" y="843" width="5" height="19" fill="#26a69a"/><rect x="650" y="840" width="5" height="22" fill="#26a69a"/><rect x="656" y="838" width="5" height="24" fill="#26a69a"/><rect x="662" y="838" width="5" height="24" fill="#26a69a"/><rect x="668" y="838" width="5" height="24" fill="#b2dfdb"/><rect x="674" y="837" width="5" height="25" fill="#26a69a"/><rect x="680" y="836" width="5" height="26" fill="#26a69a"/><rect x="686" y="836" width="5" height="26" fill="#b2dfdb"/><rect x="692" y="832" width="5" height="30" fill="#26a69a"/><rect x="698" y="823" width="5" height="39" fill="#26a69a"/><rect x="704" y="817" width="5" height="45" fill="#26a69a"/><rect x="710" y="812" width="5" height="50" fill="#26a69a"/><rect x="716" y="811" width="5" height="51" fill="#26a69a"/><rect x="722" y="813" width="5" height="49" fill="#b2dfdb"/><rect x="728" y="812" width="5" height="50" fill="#26a69a"/><rect x="734" y="808" width="5" height="54" fill="#26a69a"/><rect x="740" y="809" width="5" height="53" fill="#b2dfdb"/><rect x="746" y="809" width="5" height="53" fill="#b2dfdb"/><rect x="752" y="811" width="5" height="51" fill="#b2dfdb"/><rect x="758" y="815" width="5" height="47" fill="#b2dfdb"/><rect x="764" y="823" width="5" height="39" fill="#b2dfdb"/><rect x="770" y="830" width="5" height="32" fill="#b2dfdb"/><rect x="776" y="838" width="5" height="24" fill="#b2dfdb"/><rect x="782" y="847" width="5" height="15" fill="#b2dfdb"/><rect x="788" y="858" width="5" height="4" fill="#b2dfdb"/><rect x="794" y="861" width="5" height="6" fill="#ff5252"/><rect x="800" y="861" width="5" height="14" fill="#ff5252"/><rect x="806" y="861" width="5" height="22" fill="#ff5252"/><rect x="812" y="861" width="5" height="28" fill="#ff5252"/><rect x="818" y="861" width="5" height="29" fill="#ff5252"/><rect x="824" y="861" width="5" height="29" fill="#ff5252"/><rect x="830" y="861" width="5" height="31" fill="#ff5252"/><rect x="836" y="861" width="5" height="28" fill="#ffcdd2"/><rect x="842" y="861" width="5" height="26" fill="#ffcdd2"/><rect x="848" y="861" width="5" height="25" fill="#ffcdd2"/><rect x="854" y="861" width="5" height="18" fill="#ffcdd2"/><rect x="860" y="861" width="5" height="18" fill="#ff5252"/><rect x="866" y="861" width="5" height="21" fill="#ff5252"/><rect x="872" y="861" width="5" height="12" fill="#ffcdd2"/><rect x="878" y="861" width="5" height="5" fill="#ffcdd2"/><rect x="884" y="861" width="5" height="10" fill="#ff5252"/><rect x="890" y="861" width="5" height="17" fill="#ff5252"/><rect x="896" y="861" width="5" height="22" fill="#ff5252"/><rect x="902" y="861" width="5" height="26" fill="#ff5252"/><rect x="908" y="861" width="5" height="32" fill="#ff5252"/><rect x="914" y="861" width="5" height="37" fill="#ff5252"/><rect x="920" y="861" width="5" height="39" fill="#ff5252"/><rect x="926" y="861" width="5" height="39" fill="#ff5252"/><rect x="932" y="861" width="5" height="35" fill="#ffcdd2"/><rect x="938" y="861" width="5" height="30" fill="#ffcdd2"/><rect x="944" y="861" width="5" height="26" fill="#ffcdd2"/><rect x="950" y="861" width="5" height="24" fill="#ffcdd2"/><rect x="956" y="861" width="5" height="19" fill="#ffcdd2"/><rect x="962" y="861" width="5" height="11" fill="#ffcdd2"/><rect x="968" y="861" width="5" height="4" fill="#ffcdd2"/><rect x="974" y="860" width="5" height="2" fill="#26a69a"/><rect x="980" y="857" width="5" height="5" fill="#26a69a"/><rect x="986" y="858" width="5" height="4" fill="#b2dfdb"/><rect x="992" y="861" width="5" height="1" fill="#ff5252"/><rect x="998" y="861" width="5" height="3" fill="#ff5252"/><rect x="1004" y="861" width="5" height="1" fill="#ffcdd2"/><rect x="1010" y="860" width="5" height="2" fill="#26a69a"/><rect x="1016" y="860" width="5" height="2" fill="#b2dfdb"/><rect x="1022" y="861" width="5" height="1" fill="#ff5252"/><rect x="1028" y="861" width="5" height="11" fill="#ff5252"/><rect x="1034" y="861" width="5" height="13" fill="#ff5252"/><rect x="1040" y="861" width="5" height="13" fill="#ffcdd2"/><rect x="1046" y="861" width="5" height="12" fill="#ffcdd2"/><rect x="1052" y="861" width="5" height="12" fill="#ffcdd2"/><rect x="1058" y="861" width="5" height="12" fill="#ff5252"/><rect x="1064" y="861" width="5" height="14" fill="#ff5252"/><rect x="1070" y="861" width="5" height="14" fill="#ff5252"/><rect x="1076" y="861" width="5" height="13" fill="#ffcdd2"/></g>
<polyline points="-2,804.7 4,801 10,796 16,779.4 22,767.5 28,759.2 34,749.6 40,743.6 46,739 52,735.6 58,734.3 64,732 70,729.9 76,725.3 82,726.2 88,726.3 94,727.1 100,728.5 106,738.5 112,750.3 118,768.4 124,788.3 130,799.6 136,806.3 142,810.6 148,809.5 154,814 160,809.4 166,809.9 172,814 178,819.4 184,822.8 190,826.2 196,828.4 202,833 208,833.7 214,836.3 220,840.1 226,841.8 232,842.4 238,842.6 244,846 250,857.4 256,867.7 262,880.8 268,888.3 274,894 280,901 286,898.1 292,891.7 298,883.9 304,867.1 310,861.5 316,856.5 322,852.5 328,845.5 334,841.8 340,848 346,850.5 352,847.8 358,847.1 364,846.2 370,850.5 376,852.5 382,856.2 388,862.1 394,869.2 400,872.4 406,879.4 412,873.8 418,871.6 424,867.2 430,846.9 436,832 442,828.9 448,825.4 454,835.6 460,844.9 466,856.9 472,867.7 478,876 484,882.4 490,889.3 496,894.2 502,899 508,899.3 514,897.3 520,894.8 526,893.2 532,892.2 538,891.9 544,889.9 550,889.9 556,890.1 562,897.5 568,901.2 574,898.5 580,897.1 586,893.4 592,895.1 598,904.8 604,906.7 610,905.9 616,898.8 622,891.9 628,887.3 634,884 640,875.3 646,867.4 652,858.7 658,850.7 664,844.6 670,838.9 676,832 682,824.2 688,818.4 694,806.1 700,787.4 706,771.3 712,753.5 718,739.3 724,729.6 730,716.5 736,699 742,686.8 748,674.1 754,663.4 760,656 766,654.1 772,652.9 778,655.6 784,660.9 790,671.2 796,681.4 802,693 808,706.4 814,718.6 820,726.7 826,734.7 832,743.3 838,748 844,751.7 850,756.6 856,753.8 862,758.2 868,766.3 874,760 880,754.2 886,761.5 892,773.1 898,783 904,793.3 910,807.6 916,821.7 922,833.1 928,843.5 934,847.9 940,850 946,852.4 952,856.7 958,855.6 964,850.5 970,844.8 976,838.5 982,835.4 988,835.3 994,839.5 1000,842 1006,839.6 1012,837.1 1018,837.5 1024,839.8 1030,852 1036,857.5 1042,860.3 1048,862.7 1054,864.7 1060,868 1066,873.4 1072,876.8 1078,879.3" fill="none" stroke="#2196f3" stroke-width="1"/>
<polyline points="-2,782.1 4,785.9 10,787.9 16,786.2 22,782.5 28,777.8 34,772.2 40,766.5 46,761 52,755.9 58,751.6 64,747.7 70,744.1 76,740.3 82,737.5 88,735.3 94,733.6 100,732.6 106,733.8 112,737.1 118,743.4 124,752.4 130,761.8 136,770.7 142,778.7 148,784.9 154,790.7 160,794.4 166,797.5 172,800.8 178,804.6 184,808.2 190,811.8 196,815.1 202,818.7 208,821.7 214,824.6 220,827.7 226,830.5 232,832.9 238,834.8 244,837.1 250,841.1 256,846.4 262,853.3 268,860.3 274,867 280,873.8 286,878.7 292,881.3 298,881.8 304,878.9 310,875.4 316,871.6 322,867.8 328,863.3 334,859 340,856.8 346,855.6 352,854 358,852.6 364,851.3 370,851.2 376,851.5 382,852.4 388,854.3 394,857.3 400,860.3 406,864.2 412,866.1 418,867.2 424,867.2 430,863.1 436,856.9 442,851.3 448,846.1 454,844 460,844.2 466,846.7 472,850.9 478,855.9 484,861.2 490,866.8 496,872.3 502,877.6 508,882 514,885 520,887 526,888.2 532,889 538,889.6 544,889.7 550,889.7 556,889.8 562,891.3 568,893.3 574,894.3 580,894.9 586,894.6 592,894.7 598,896.7 604,898.7 610,900.2 616,899.9 622,898.3 628,896.1 634,893.7 640,890 646,885.5 652,880.1 658,874.2 664,868.3 670,862.4 676,856.3 682,849.9 688,843.6 694,836.1 700,826.4 706,815.4 712,803 718,790.2 724,778.1 730,765.8 736,752.4 742,739.3 748,726.3 754,713.7 760,702.2 766,692.5 772,684.6 778,678.8 784,675.2 790,674.4 796,675.8 802,679.3 808,684.7 814,691.5 820,698.5 826,705.8 832,713.3 838,720.2 844,726.5 850,732.5 856,736.8 862,741.1 868,746.1 874,748.9 880,749.9 886,752.2 892,756.4 898,761.7 904,768.1 910,776 916,785.1 922,794.7 928,804.5 934,813.2 940,820.5 946,826.9 952,832.9 958,837.4 964,840 970,841 976,840.5 982,839.5 988,838.6 994,838.8 1000,839.4 1006,839.5 1012,839 1018,838.7 1024,838.9 1030,841.5 1036,844.7 1042,847.9 1048,850.8 1054,853.6 1060,856.5 1066,859.8 1072,863.2 1078,866.4" fill="none" stroke="#ff4081" stroke-width="2"/>
</g>
<circle cx="23.5" cy="910" r="16.5" fill="#fff" stroke="#e0e3eb" stroke-width="1"/>
<path d="M13 905 H22 V915.7 H18 V909 H13 Z" fill="#131722"/><circle cx="25" cy="907" r="1.9" fill="#131722"/><polygon points="30.6,905 34.3,905 29.9,915.7 25.2,915.7" fill="#131722"/>
<rect x="9.5" y="102.5" width="28" height="20" rx="3.5" fill="#fff" stroke="#d1d4dc" stroke-width="1"/>
<path d="M19.2 114.3 L23.4 110.5 L27.6 114.3" fill="none" stroke="#131722" stroke-width="1.3"/>
<g transform="translate(1247.5 946.5)" stroke="#131722" fill="none" stroke-width="1.2"><circle r="5"/><line x1="0" y1="-5" x2="0" y2="-7.5" transform="rotate(0)"/><line x1="0" y1="-5" x2="0" y2="-7.5" transform="rotate(45)"/><line x1="0" y1="-5" x2="0" y2="-7.5" transform="rotate(90)"/><line x1="0" y1="-5" x2="0" y2="-7.5" transform="rotate(135)"/><line x1="0" y1="-5" x2="0" y2="-7.5" transform="rotate(180)"/><line x1="0" y1="-5" x2="0" y2="-7.5" transform="rotate(225)"/><line x1="0" y1="-5" x2="0" y2="-7.5" transform="rotate(270)"/><line x1="0" y1="-5" x2="0" y2="-7.5" transform="rotate(315)"/></g>
</svg>
<div class="pl" style="top:33.9px;color:#131722"><span class="sx">1.34000</span></div>
<div class="pl" style="top:71.9px;color:#131722"><span class="sx">1.33800</span></div>
<div class="pl" style="top:224.9px;color:#131722"><span class="sx">1.33000</span></div>
<div class="pl" style="top:263.9px;color:#131722"><span class="sx">1.32800</span></div>
<div class="pl" style="top:301.9px;color:#131722"><span class="sx">1.32600</span></div>
<div class="pl" style="top:339.9px;color:#131722"><span class="sx">1.32400</span></div>
<div class="pl" style="top:378.9px;color:#131722"><span class="sx">1.32200</span></div>
<div class="pl" style="top:416.9px;color:#131722"><span class="sx">1.32000</span></div>
<div class="pl" style="top:454.9px;color:#131722"><span class="sx">1.31800</span></div>
<div class="pl" style="top:493.9px;color:#131722"><span class="sx">1.31600</span></div>
<div class="pl" style="top:531.9px;color:#131722"><span class="sx">1.31400</span></div>
<div class="pl" style="top:569.9px;color:#131722"><span class="sx">1.31200</span></div>
<div class="pl" style="top:608.9px;color:#131722"><span class="sx">1.31000</span></div>
<div class="pl" style="top:637.9px;color:#131722"><span class="sx">0.00350</span></div>
<div class="pl" style="top:668.9px;color:#131722"><span class="sx">0.00300</span></div>
<div class="pl" style="top:699.9px;color:#131722"><span class="sx">0.00250</span></div>
<div class="pl" style="top:730.9px;color:#131722"><span class="sx">0.00200</span></div>
<div class="pl" style="top:761.9px;color:#131722"><span class="sx">0.00150</span></div>
<div class="pl" style="top:791.9px;color:#131722"><span class="sx">0.00100</span></div>
<div class="pl" style="top:822.9px;color:#131722"><span class="sx">0.00050</span></div>
<div class="pl" style="top:915.9px;color:#131722"><span class="sx">&minus;0.00100</span></div>
<div class="bx" style="top:108px;background:#2196f3;color:#fff"><span class="sx">1.33578</span></div>
<div class="bx" style="top:125px;background:#e0770c;color:#fff"><span class="sx">1.33394</span></div>
<div class="bx" style="top:142px;background:#36a3e8;color:#fff"><span class="sx">1.33384</span></div>
<div class="bx" style="top:159px;background:#f5b32e;color:#131722"><span class="sx">1.33301</span></div>
<div class="bx" style="top:176px;background:#808080;color:#fff"><span class="sx">1.33254</span></div>
<div class="bx" style="top:193px;background:#2196f3;color:#fff"><span class="sx">1.33189</span></div>
<div class="bx mb" style="top:849px;background:#ff4081;color:#fff"><span class="sx">&minus;0.00008</span></div>
<div class="bx mb" style="top:866px;background:#ffcdd2;color:#131722"><span class="sx">&minus;0.00021</span></div>
<div class="bx mb" style="top:883px;background:#2196f3;color:#fff"><span class="sx">&minus;0.00029</span></div>
<div class="tl" style="left:-8px;"><span>27</span></div>
<div class="tl" style="left:136px;"><span>28</span></div>
<div class="tl" style="left:226px;"><span>15:00</span></div>
<div class="tl" style="left:316px;font-weight:bold"><span>Dec</span></div>
<div class="tl" style="left:424px;"><span>2</span></div>
<div class="tl" style="left:568px;"><span>3</span></div>
<div class="tl" style="left:712px;"><span>4</span></div>
<div class="tl" style="left:856px;"><span>5</span></div>
<div class="tl" style="left:1000px;"><span>6</span></div>
<div class="tl" style="left:1144px;"><span>9</span></div>
<div class="rb" style="top:31px;width:226px"></div><div class="rb" style="top:55px;width:186px"></div><div class="rb" style="top:79px;width:186px;height:22px"></div><div class="rb" style="top:629px;width:309px;height:21px"></div>
<div class="lg" style="top:8px;left:10px;font-weight:bold;font-size:12px;-webkit-text-stroke:0">GBPUSD 1h - 1uptick.com</div>
<div class="lg" style="top:33px;left:9px">BB</div><div class="lg g" style="top:33px;left:28px">20 2</div>
<div class="lg v" style="top:33px;left:67.5px;color:#2196f3">1.33384</div><div class="lg v" style="top:33px;left:120px;color:#2196f3">1.33578</div><div class="lg v" style="top:33px;left:173px;color:#2196f3">1.33189</div>
<div class="lg" style="top:56.5px;left:9px">MA</div><div class="lg g" style="top:56.5px;left:30px">10 close 0 SMA 9</div><div class="lg v" style="top:56.5px;left:139.5px;color:#f5b32e">1.33301</div>
<div class="lg" style="top:80.5px;left:9px">MA</div><div class="lg g" style="top:80.5px;left:30px">50 close 0 SMA 9</div><div class="lg v" style="top:80.5px;left:139.5px;color:#e0770c">1.33394</div>
<div class="lg" style="top:630.5px;left:9px;letter-spacing:-0.5px">MACD</div><div class="lg g" style="top:630.5px;left:46px;letter-spacing:0.3px">12 26 close 9</div>
<div class="lg v" style="top:630.5px;left:136px;color:#ffcdd2">&minus;0.00021</div><div class="lg v" style="top:630.5px;left:197px;color:#2196f3">&minus;0.00029</div><div class="lg v" style="top:630.5px;left:257px;color:#ff4081">&minus;0.00008</div>
</div></body></html>
